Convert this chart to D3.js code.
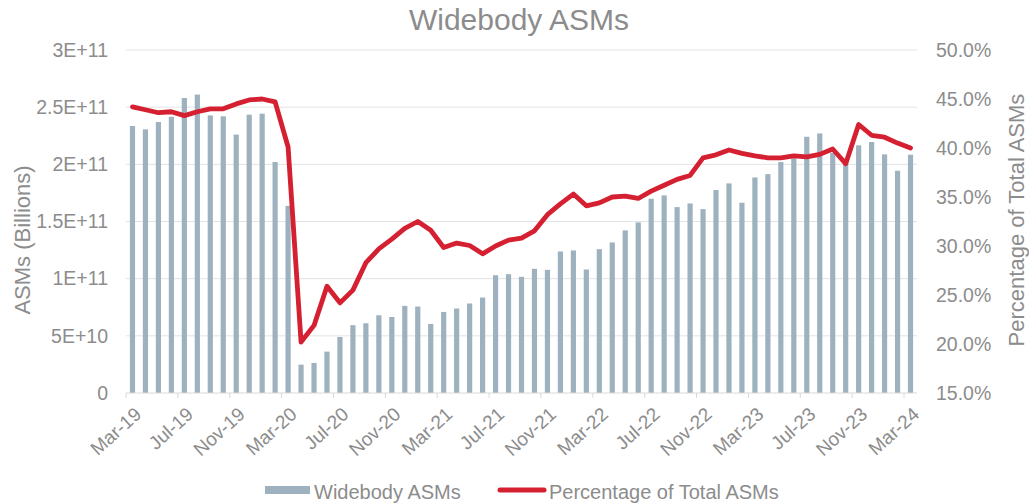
<!DOCTYPE html>
<html>
<head>
<meta charset="utf-8">
<script src="https://cdn.jsdelivr.net/npm/d3@7"></script>
<style>
  body { margin: 0; background: #fff; }
  text { font-family: "Liberation Sans", Arial, sans-serif; fill: #8c8c8c; }
</style>
</head>
<body>
<div id="chart-area"></div>
<script>
// monthly categories, Mar-19 .. Mar-24
var months = [
  "Mar-19","Apr-19","May-19","Jun-19","Jul-19","Aug-19","Sep-19","Oct-19","Nov-19","Dec-19",
  "Jan-20","Feb-20","Mar-20","Apr-20","May-20","Jun-20","Jul-20","Aug-20","Sep-20","Oct-20","Nov-20","Dec-20",
  "Jan-21","Feb-21","Mar-21","Apr-21","May-21","Jun-21","Jul-21","Aug-21","Sep-21","Oct-21","Nov-21","Dec-21",
  "Jan-22","Feb-22","Mar-22","Apr-22","May-22","Jun-22","Jul-22","Aug-22","Sep-22","Oct-22","Nov-22","Dec-22",
  "Jan-23","Feb-23","Mar-23","Apr-23","May-23","Jun-23","Jul-23","Aug-23","Sep-23","Oct-23","Nov-23","Dec-23",
  "Jan-24","Feb-24","Mar-24"
];

// widebody ASMs, billions
var asms = [
  233.5, 230.6, 237, 241.6, 258, 261, 242.8, 242, 226, 243.4, 244.3, 202, 163.7,
  24.8, 26.3, 36.2, 49, 59.3, 61, 68, 66.5, 76.2, 75.6,
  60.4, 70.9, 73.9, 78.3, 83.5, 103, 103.9, 101.6, 108.6, 107.7,
  123.8, 124.7, 108, 125.8, 131.7, 142.2, 149.2, 169.9, 172.8, 162.6,
  165.8, 160.8, 177.5, 183.3, 166.4, 188.5, 191.4, 202, 205.2, 224.1,
  227, 210, 203.7, 216.6, 219.5, 208.7, 194.4, 208.4
];

// widebody share of total ASMs, percent
var pctTotal = [
  44.2, 43.9, 43.6, 43.7, 43.3, 43.7, 44.0, 44.0, 44.5, 44.9, 45.0, 44.7, 40.1,
  20.2, 21.9, 25.9, 24.2, 25.5, 28.3, 29.7, 30.7, 31.8, 32.5,
  31.6, 29.85, 30.3, 30.05, 29.2, 30.0, 30.6, 30.8, 31.55, 33.2,
  34.3, 35.3, 34.1, 34.4, 35.0, 35.1, 34.85, 35.6, 36.2, 36.8,
  37.2, 39.0, 39.3, 39.8, 39.45, 39.2, 39.0, 39.0, 39.2, 39.1,
  39.35, 39.9, 38.4, 42.4, 41.3, 41.1, 40.5, 40.0
];

var xTickLabels = ["Mar-19","Jul-19","Nov-19","Mar-20","Jul-20","Nov-20","Mar-21","Jul-21",
  "Nov-21","Mar-22","Jul-22","Nov-22","Mar-23","Jul-23","Nov-23","Mar-24"];
var leftTicks = [0, 50, 100, 150, 200, 250, 300];
var leftTickLabels = ["0", "5E+10", "1E+11", "1.5E+11", "2E+11", "2.5E+11", "3E+11"];
var rightTicks = [15, 20, 25, 30, 35, 40, 45, 50];

var W = 1029, H = 504;
var margin = {left: 126, right: 112, top: 50, bottom: 111};
var width = W - margin.left - margin.right,
    height = H - margin.top - margin.bottom;

var svg = d3.select("#chart-area")
  .append("svg")
    .attr("width", W)
    .attr("height", H);

var g = svg.append("g")
  .attr("transform", "translate(" + margin.left + "," + margin.top + ")");

var x = d3.scaleBand()
  .domain(months)
  .range([0, width])
  .paddingInner(0.6)
  .paddingOuter(0.3);

var y = d3.scaleLinear().domain([0, 300]).range([height, 0]);
var y2 = d3.scaleLinear().domain([15, 50]).range([height, 0]);

// gridlines
g.selectAll("line.grid")
  .data(leftTicks.slice(1))
  .enter().append("line")
    .attr("class", "grid")
    .attr("x1", 0).attr("x2", width)
    .attr("y1", function(d){ return y(d); })
    .attr("y2", function(d){ return y(d); })
    .attr("stroke", "#e3e3e3")
    .attr("stroke-width", 1);

// left axis
var yAxisCall = d3.axisLeft(y)
  .tickValues(leftTicks)
  .tickSize(0)
  .tickPadding(18)
  .tickFormat(function(d, i){ return leftTickLabels[i]; });
var yAxisG = g.append("g").call(yAxisCall);
yAxisG.select(".domain").remove();
yAxisG.selectAll("text")
  .attr("font-size", "19.5px")
  .style("fill", "#8c8c8c");

// right axis
var y2AxisCall = d3.axisRight(y2)
  .tickValues(rightTicks)
  .tickSize(0)
  .tickPadding(19)
  .tickFormat(function(d){ return d3.format(".1f")(d) + "%"; });
var y2AxisG = g.append("g")
  .attr("transform", "translate(" + width + ",0)")
  .call(y2AxisCall);
y2AxisG.select(".domain").remove();
y2AxisG.selectAll("text")
  .attr("font-size", "19.5px")
  .style("fill", "#8c8c8c");

// bars
g.selectAll("rect.bar")
  .data(asms)
  .enter().append("rect")
    .attr("class", "bar")
    .attr("x", function(d, i){ return x(months[i]); })
    .attr("width", x.bandwidth())
    .attr("y", function(d){ return y(d); })
    .attr("height", function(d){ return height - y(d); })
    .attr("fill", "#9db1bf");

// bottom axis line + ticks
g.append("line")
  .attr("x1", 0).attr("x2", width)
  .attr("y1", height).attr("y2", height)
  .attr("stroke", "#d9d9d9");

var step = x.step();
g.selectAll("line.xtick")
  .data(xTickLabels)
  .enter().append("line")
    .attr("class", "xtick")
    .attr("x1", function(d){ return x(d) - (step - x.bandwidth()) / 2; })
    .attr("x2", function(d){ return x(d) - (step - x.bandwidth()) / 2; })
    .attr("y1", height).attr("y2", height + 5)
    .attr("stroke", "#d9d9d9");

g.selectAll("text.xlabel")
  .data(xTickLabels)
  .enter().append("text")
    .attr("class", "xlabel")
    .attr("text-anchor", "end")
    .attr("font-size", "19px")
    .attr("transform", function(d){
      return "translate(" + (x(d) + x.bandwidth() / 2 + 10) + "," + (height + 23) + ") rotate(-42)";
    })
    .text(function(d){ return d; });

// share line
var line = d3.line()
  .x(function(d, i){ return x(months[i]) + x.bandwidth() / 2; })
  .y(function(d){ return y2(d); });

g.append("path")
  .datum(pctTotal)
  .attr("d", line)
  .attr("fill", "none")
  .attr("stroke", "#d42030")
  .attr("stroke-width", 4.8)
  .attr("stroke-linejoin", "round")
  .attr("stroke-linecap", "round");

// title
svg.append("text")
  .attr("x", 519)
  .attr("y", 30)
  .attr("text-anchor", "middle")
  .attr("font-size", "30px")
  .text("Widebody ASMs");

// axis titles
svg.append("text")
  .attr("transform", "translate(30,240) rotate(-90)")
  .attr("text-anchor", "middle")
  .attr("font-size", "22px")
  .text("ASMs (Billions)");

svg.append("text")
  .attr("transform", "translate(1024,220) rotate(-90)")
  .attr("text-anchor", "middle")
  .attr("font-size", "22px")
  .text("Percentage of Total ASMs");

// legend
var legend = svg.append("g");
legend.append("rect")
  .attr("x", 265).attr("y", 486)
  .attr("width", 45).attr("height", 8)
  .attr("fill", "#9db1bf");
legend.append("text")
  .attr("x", 314).attr("y", 499)
  .attr("font-size", "20px")
  .text("Widebody ASMs");
legend.append("line")
  .attr("x1", 500).attr("x2", 544)
  .attr("y1", 490).attr("y2", 490)
  .attr("stroke", "#d42030")
  .attr("stroke-width", 5)
  .attr("stroke-linecap", "round");
legend.append("text")
  .attr("x", 549).attr("y", 499)
  .attr("font-size", "20px")
  .text("Percentage of Total ASMs");
</script>
</body>
</html>
